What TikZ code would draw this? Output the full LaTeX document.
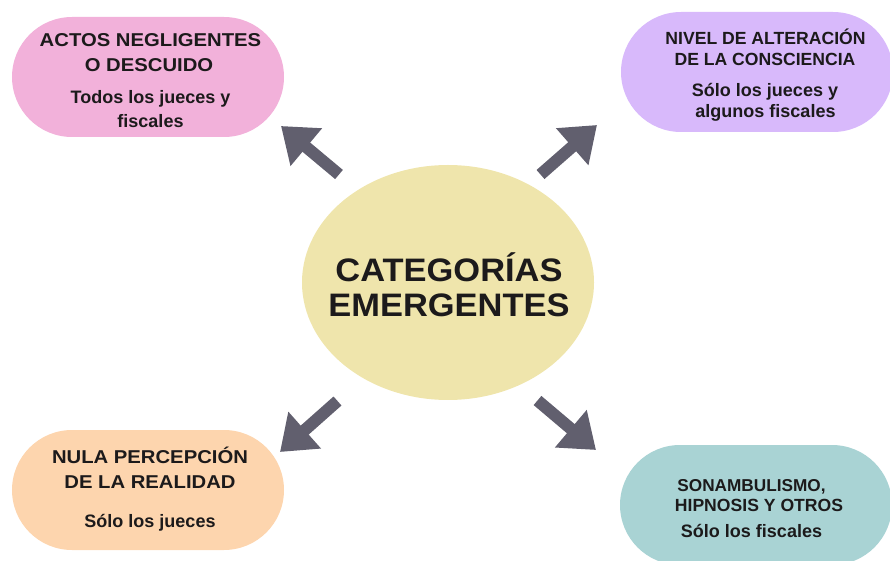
\documentclass[tikz,border=0pt]{standalone}
\usepackage{fontspec}
\setmainfont{Liberation Sans}
\newfontfamily\widefont{Liberation Sans}[FakeStretch=1.09]
\newfontfamily\centerfont{Liberation Sans}[FakeStretch=1.06]
\usetikzlibrary{arrows.meta,shapes.geometric}
\definecolor{pinkbox}{HTML}{F2B1DA}
\definecolor{purplebox}{HTML}{D8B9FB}
\definecolor{orangebox}{HTML}{FDD5AE}
\definecolor{tealbox}{HTML}{A9D3D4}
\definecolor{ellipsefill}{HTML}{EFE5AC}
\definecolor{arrowgray}{HTML}{615F6E}
\definecolor{ink}{HTML}{1C1A1B}
\begin{document}
\begin{tikzpicture}[x=1bp,y=-1bp,
  pill/.style={rectangle, rounded corners=60bp, minimum width=272bp, minimum height=120bp, inner sep=0pt, draw=none},
  txtA/.style={anchor=base, inner sep=0pt, text=ink, font=\widefont\bfseries\fontsize{18.6bp}{22bp}\selectfont},
  txtB/.style={anchor=base, inner sep=0pt, text=ink, font=\bfseries\fontsize{17.6bp}{21bp}\selectfont},
  txtS/.style={anchor=base, inner sep=0pt, text=ink, font=\bfseries\fontsize{18bp}{22bp}\selectfont},
  txtC/.style={anchor=base, inner sep=0pt, text=ink, font=\centerfont\bfseries\fontsize{32.5bp}{38bp}\selectfont},
  bigarrow/.style={draw=arrowgray, line width=12bp, line cap=butt, -{Triangle[width=47bp,length=33bp]}, arrowgray}
]
\useasboundingbox (0,0) rectangle (890,561);
\clip (0,0) rectangle (890,561);

% centre
\node[ellipse, fill=ellipsefill, minimum width=292bp, minimum height=235bp, inner sep=0pt] (center) at (448,282.5) {};
\node[txtC] (c1) at (449,282) {CATEGORÍAS};
\node[txtC] (c2) at (449,317) {EMERGENTES};

% boxes
\node[pill, fill=pinkbox] (pink) at (148,77) {};
\node[pill, fill=purplebox] (purple) at (757,72) {};
\node[pill, fill=orangebox] (orange) at (148,490) {};
\node[pill, fill=tealbox] (teal) at (756,505) {};

% pink texts
\node[txtA] (p1) at (150.5,47) {ACTOS NEGLIGENTES};
\node[txtA] (p2) at (149,72) {O DESCUIDO};
\node[txtS] (p3) at (150.5,104) {Todos los jueces y};
\node[txtS] (p4) at (150.5,128) {fiscales};

% purple texts
\node[txtB] (u1) at (765.5,45) {NIVEL DE ALTERACIÓN};
\node[txtB] (u2) at (765,66) {DE LA CONSCIENCIA};
\node[txtS] (u3) at (765,97) {Sólo los jueces y};
\node[txtS] (u4) at (765.5,118) {algunos fiscales};

% orange texts
\node[txtA] (o1) at (150,463) {NULA PERCEPCIÓN};
\node[txtA] (o2) at (150,488) {DE LA REALIDAD};
\node[txtS] (o3) at (150,527) {Sólo los jueces};

% teal texts
\node[txtB, font=\bfseries\fontsize{17.2bp}{21bp}\selectfont] (t1) at (751.5,491) {SONAMBULISMO,};
\node[txtB] (t2) at (759,511) {HIPNOSIS Y OTROS};
\node[txtS] (t3) at (751.5,537) {Sólo los fiscales};

% arrows
\coordinate (ulTail) at (339,174.5);
\coordinate (ulTip) at (281,126);
\coordinate (urTail) at (540.5,174.5);
\coordinate (urTip) at (597,125);
\coordinate (llTail) at (337.5,401);
\coordinate (llTip) at (280,452);
\coordinate (lrTail) at (537.5,400.5);
\coordinate (lrTip) at (596,450);
\draw[bigarrow] (ulTail) -- (ulTip);
\draw[bigarrow] (urTail) -- (urTip);
\draw[bigarrow] (llTail) -- (llTip);
\draw[bigarrow] (lrTail) -- (lrTip);
\end{tikzpicture}
\end{document}
